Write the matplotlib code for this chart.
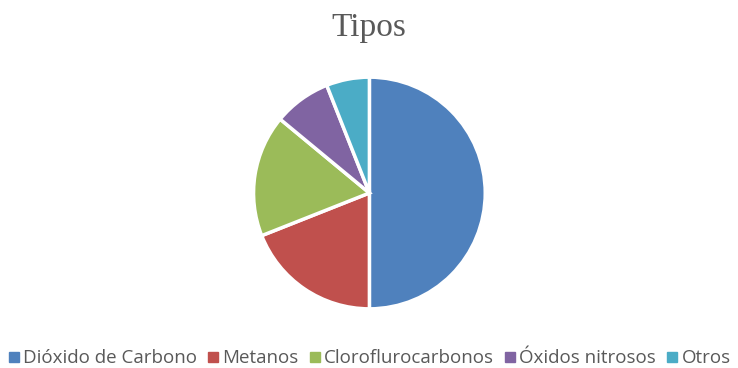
import matplotlib.pyplot as plt
from matplotlib.lines import Line2D

# Data
labels = ['Dióxido de Carbono', 'Metanos', 'Cloroflurocarbonos', 'Óxidos nitrosos', 'Otros']
values = [50, 19, 17, 8, 6]
colors = ['#4F81BD', '#C0504D', '#9BBB59', '#8064A2', '#4BACC6']

fig = plt.figure(figsize=(7.38, 3.68), dpi=100)

# Pie
ax = fig.add_axes([0.342, 0.1576, 234 / 738, 234 / 368])
ax.pie(values, colors=colors, startangle=90, counterclock=False,
       wedgeprops=dict(edgecolor='white', linewidth=2.5))
ax.set_xlim(-1.01, 1.01)
ax.set_ylim(-1.01, 1.01)
ax.set_aspect('equal')

# Title
fig.text(0.5, 0.925, 'Tipos', ha='center', va='center',
         family='Liberation Serif', color='#595959', fontsize=24)

# Legend
handles = [Line2D([], [], marker='s', linestyle='none', markersize=7,
                  markerfacecolor=c, markeredgecolor=c) for c in colors]
fig.legend(handles, labels, loc='center', bbox_to_anchor=(0.5, 0.027),
           ncol=5, frameon=False, handletextpad=0.15,
           columnspacing=0.5, handlelength=0.7, labelcolor='#595959',
           prop={'family': 'Open Sans', 'size': 13.5})

fig.savefig('out.png', dpi=100)
